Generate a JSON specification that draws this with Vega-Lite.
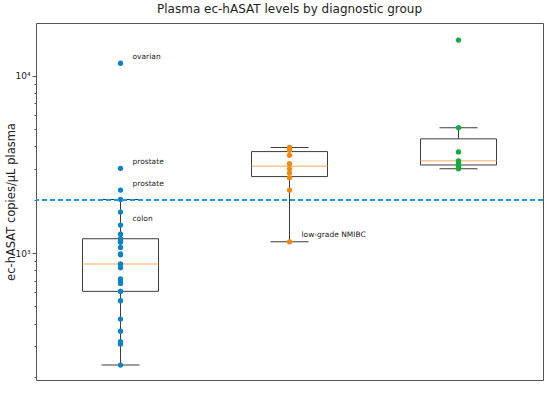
{
  "$schema": "https://vega.github.io/schema/vega-lite/v6.json",
  "width": 507,
  "height": 357,
  "autosize": {"type": "none"},
  "padding": {"left": 36, "top": 23, "right": 7, "bottom": 21},
  "title": {"text": "Plasma ec-hASAT levels by diagnostic group", "fontSize": 12, "font": "DejaVu Sans", "fontWeight": "normal", "offset": 7, "color": "#222222"},
  "config": {
    "view": {"stroke": "#555555", "strokeWidth": 1},
    "font": "DejaVu Sans",
    "axisX": {"labelFontSize": 10, "tickSize": 4, "labelPadding": 3, "domain": false, "title": null, "labelAngle": 0, "labelColor": "#222222", "tickColor": "#555555", "grid": false},
    "axisY": {"domain": false, "grid": false, "tickColor": "#555555", "labelColor": "#222222"}
  },
  "data": {"values": [
    {"group": "BC-negative", "value": 233},
    {"group": "BC-negative", "value": 307},
    {"group": "BC-negative", "value": 309},
    {"group": "BC-negative", "value": 316},
    {"group": "BC-negative", "value": 362},
    {"group": "BC-negative", "value": 424},
    {"group": "BC-negative", "value": 538},
    {"group": "BC-negative", "value": 608},
    {"group": "BC-negative", "value": 608},
    {"group": "BC-negative", "value": 674},
    {"group": "BC-negative", "value": 695},
    {"group": "BC-negative", "value": 716},
    {"group": "BC-negative", "value": 826},
    {"group": "BC-negative", "value": 867},
    {"group": "BC-negative", "value": 867},
    {"group": "BC-negative", "value": 978},
    {"group": "BC-negative", "value": 991},
    {"group": "BC-negative", "value": 1077},
    {"group": "BC-negative", "value": 1150},
    {"group": "BC-negative", "value": 1164},
    {"group": "BC-negative", "value": 1175},
    {"group": "BC-negative", "value": 1205},
    {"group": "BC-negative", "value": 1280},
    {"group": "BC-negative", "value": 1439, "label": "colon"},
    {"group": "BC-negative", "value": 1704},
    {"group": "BC-negative", "value": 2010},
    {"group": "BC-negative", "value": 2270, "label": "prostate"},
    {"group": "BC-negative", "value": 3010, "label": "prostate"},
    {"group": "BC-negative", "value": 11800, "label": "ovarian"},
    {"group": "NMIBC", "value": 1158, "label": "low-grade NMIBC"},
    {"group": "NMIBC", "value": 2270},
    {"group": "NMIBC", "value": 2662},
    {"group": "NMIBC", "value": 2830},
    {"group": "NMIBC", "value": 2993},
    {"group": "NMIBC", "value": 3196},
    {"group": "NMIBC", "value": 3565},
    {"group": "NMIBC", "value": 3802},
    {"group": "NMIBC", "value": 3930},
    {"group": "NMIBC", "value": 3950},
    {"group": "MIBC", "value": 2993},
    {"group": "MIBC", "value": 3073},
    {"group": "MIBC", "value": 3214},
    {"group": "MIBC", "value": 3319},
    {"group": "MIBC", "value": 3726},
    {"group": "MIBC", "value": 5107},
    {"group": "MIBC", "value": 15960}
  ]},
  "resolve": {"axis": {"y": "independent"}},
  "layer": [
    {
      "mark": {
        "type": "boxplot",
        "extent": 1.5,
        "size": 76,
        "outliers": false,
        "box": {"fill": "white", "stroke": "#3c3c3c", "strokeWidth": 1},
        "median": {"color": "#f6ae66", "thickness": 1.5},
        "rule": {"color": "#3c3c3c"},
        "ticks": {"color": "#3c3c3c", "size": 38}
      },
      "encoding": {
        "x": {"field": "group", "type": "nominal", "sort": ["BC-negative", "NMIBC", "MIBC"], "scale": {"paddingInner": 0, "paddingOuter": 0}},
        "y": {
          "field": "value", "type": "quantitative",
          "scale": {"type": "log", "domain": [192, 19920], "nice": false},
          "axis": {"orient": "left", "values": [1000, 10000], "labelExpr": "datum.value == 1000 ? '10³' : '10⁴'", "labelFontSize": 9, "tickSize": 4, "labelPadding": 2, "title": "ec-hASAT copies/μL plasma", "titleFontSize": 11.5, "titleFontWeight": "normal", "titlePadding": -2, "titleColor": "#222222"}
        }
      }
    },
    {
      "mark": {"type": "circle", "size": 28, "opacity": 1},
      "encoding": {
        "x": {"field": "group", "type": "nominal", "sort": ["BC-negative", "NMIBC", "MIBC"], "axis": null},
        "y": {
          "field": "value", "type": "quantitative",
          "axis": {"orient": "left", "values": [200, 300, 400, 500, 600, 700, 800, 900, 2000, 3000, 4000, 5000, 6000, 7000, 8000, 9000], "labels": false, "title": null, "tickSize": 2}
        },
        "color": {"field": "group", "type": "nominal", "scale": {"domain": ["BC-negative", "NMIBC", "MIBC"], "range": ["#0b84c6", "#f5870f", "#12ad3e"]}, "legend": null}
      }
    },
    {
      "mark": {"type": "rule", "strokeDash": [5, 3], "color": "#2a93d5", "strokeWidth": 1.4},
      "encoding": {
        "y": {"datum": 2000, "type": "quantitative", "axis": null}
      }
    },
    {
      "transform": [{"filter": "isValid(datum.label)"}],
      "mark": {"type": "text", "align": "left", "baseline": "middle", "dx": 12, "dy": -6.5, "fontSize": 7.5, "color": "#222222"},
      "encoding": {
        "x": {"field": "group", "type": "nominal", "sort": ["BC-negative", "NMIBC", "MIBC"], "axis": null},
        "y": {"field": "value", "type": "quantitative", "axis": null},
        "text": {"field": "label"}
      }
    }
  ]
}
